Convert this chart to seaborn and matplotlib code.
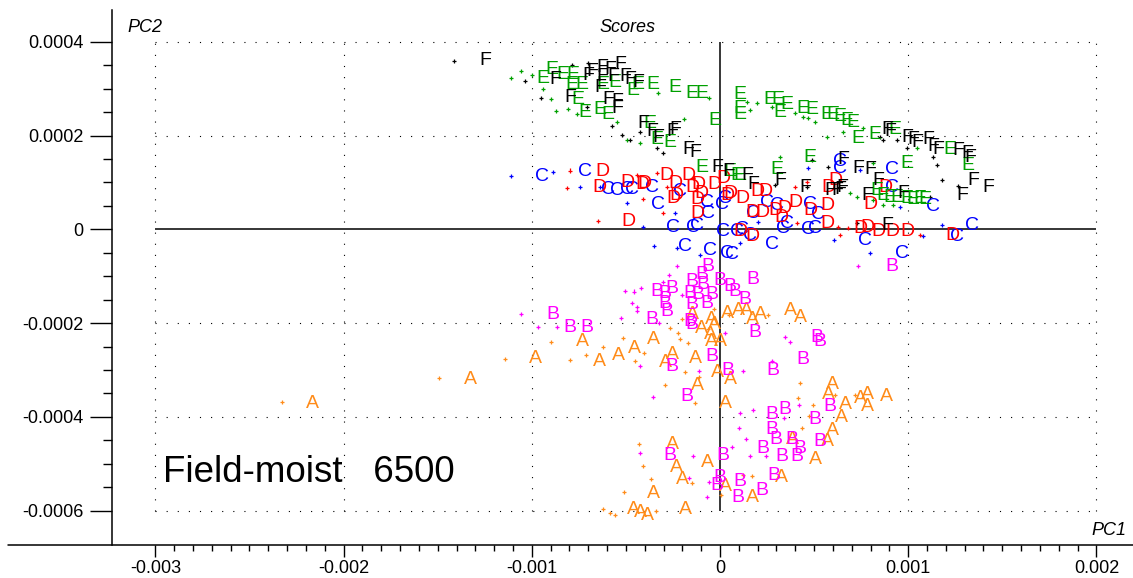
import numpy as np
import pandas as pd
import matplotlib
matplotlib.use("Agg")
import matplotlib.pyplot as plt
import seaborn as sns
from matplotlib.ticker import FixedLocator
from matplotlib.lines import Line2D

# ---------------- data (PC1, PC2 scores) ----------------
groups = ["A", "B", "C", "D", "E", "F"]
group_colors = {"A": "#FF8C1A", "B": "#FF00FF", "C": "#0000FF",
                "D": "#FF0000", "E": "#00A000", "F": "#000000"}

x_ticks = [-0.003, -0.002, -0.001, 0.0, 0.001, 0.002]
x_tick_labels = ["-0.003", "-0.002", "-0.001", "0", "0.001", "0.002"]
y_ticks = [-0.0006, -0.0004, -0.0002, 0.0, 0.0002, 0.0004]
y_tick_labels = ["-0.0006", "-0.0004", "-0.0002", "0", "0.0002", "0.0004"]

# labelled samples
A_labels = [(-21.68e-4, -3.68e-4), (-13.28e-4, -3.15e-4), (-9.83e-4, -2.72e-4), (-7.33e-4, -2.36e-4),
            (-6.38e-4, -2.77e-4), (-5.42e-4, -2.64e-4), (-4.52e-4, -2.49e-4), (-3.56e-4, -2.30e-4),
            (-2.92e-4, -2.79e-4), (-2.50e-4, -2.62e-4), (-1.33e-4, -2.72e-4), (-1.22e-4, -3.28e-4),
            (-0.16e-4, -3.00e-4), (0.53e-4, -3.15e-4), (0.27e-4, -3.68e-4), (-0.96e-4, -2.08e-4),
            (-0.43e-4, -1.89e-4), (-0.53e-4, -2.19e-4), (-0.27e-4, -1.98e-4), (-0.43e-4, -2.36e-4),
            (0.00e-4, -2.36e-4), (-1.49e-4, -1.78e-4), (0.37e-4, -1.76e-4), (0.96e-4, -1.68e-4),
            (1.43e-4, -1.68e-4), (1.75e-4, -1.87e-4), (2.13e-4, -1.78e-4), (3.72e-4, -1.68e-4),
            (4.25e-4, -1.83e-4), (5.95e-4, -3.26e-4), (5.74e-4, -3.49e-4), (6.64e-4, -3.70e-4),
            (6.48e-4, -3.96e-4), (6.00e-4, -4.24e-4), (5.69e-4, -4.49e-4), (5.05e-4, -4.86e-4),
            (3.83e-4, -4.43e-4), (7.44e-4, -3.57e-4), (7.81e-4, -3.49e-4), (7.86e-4, -3.74e-4),
            (8.82e-4, -3.53e-4), (-2.55e-4, -4.55e-4), (-2.34e-4, -5.03e-4), (-2.02e-4, -5.30e-4),
            (-3.51e-4, -5.60e-4), (-4.62e-4, -5.94e-4), (-4.20e-4, -5.99e-4), (-3.88e-4, -6.07e-4),
            (-1.81e-4, -5.94e-4), (-0.69e-4, -4.92e-4), (0.27e-4, -5.45e-4), (1.70e-4, -5.67e-4),
            (3.29e-4, -5.24e-4)]

B_labels = [(-8.87e-4, -1.78e-4), (-7.97e-4, -2.06e-4), (-7.07e-4, -2.06e-4), (-3.61e-4, -1.87e-4),
            (-3.35e-4, -1.29e-4), (-2.92e-4, -1.33e-4), (-2.55e-4, -1.23e-4), (-2.92e-4, -1.55e-4),
            (-2.82e-4, -1.72e-4), (-1.49e-4, -1.08e-4), (-0.96e-4, -0.93e-4), (-0.64e-4, -0.76e-4),
            (-1.59e-4, -1.33e-4), (-1.17e-4, -1.35e-4), (-0.90e-4, -1.14e-4), (-0.43e-4, -1.35e-4),
            (-0.69e-4, -1.55e-4), (-1.49e-4, -1.57e-4), (-1.59e-4, -1.93e-4), (-1.49e-4, -1.98e-4),
            (0.00e-4, -1.04e-4), (0.53e-4, -1.18e-4), (0.80e-4, -1.29e-4), (1.33e-4, -1.46e-4),
            (1.75e-4, -1.02e-4), (1.86e-4, -2.15e-4), (-0.43e-4, -2.68e-4), (-2.55e-4, -2.89e-4),
            (0.43e-4, -2.96e-4), (-1.75e-4, -3.53e-4), (9.14e-4, -0.76e-4), (5.15e-4, -2.26e-4),
            (5.31e-4, -2.36e-4), (4.41e-4, -2.74e-4), (2.82e-4, -2.96e-4), (2.76e-4, -3.90e-4),
            (3.45e-4, -3.81e-4), (2.76e-4, -4.22e-4), (2.98e-4, -4.43e-4), (3.83e-4, -4.43e-4),
            (4.25e-4, -4.64e-4), (3.29e-4, -4.81e-4), (4.09e-4, -4.81e-4), (2.28e-4, -4.64e-4),
            (5.05e-4, -4.02e-4), (5.31e-4, -4.49e-4), (5.85e-4, -3.74e-4), (-2.66e-4, -4.77e-4),
            (0.16e-4, -4.79e-4), (0.00e-4, -5.24e-4), (-0.16e-4, -5.41e-4), (1.06e-4, -5.34e-4),
            (0.96e-4, -5.67e-4), (2.23e-4, -5.52e-4), (2.87e-4, -5.20e-4)]

C_labels = [(-9.46e-4, 1.16e-4), (-7.17e-4, 1.27e-4), (-5.95e-4, 0.90e-4), (-5.47e-4, 0.88e-4),
            (-4.94e-4, 0.90e-4), (-4.68e-4, 0.90e-4), (-3.61e-4, 0.94e-4), (-3.29e-4, 0.58e-4),
            (-2.13e-4, 0.84e-4), (-0.64e-4, 0.37e-4), (-0.69e-4, 0.62e-4), (0.11e-4, 0.58e-4),
            (-2.50e-4, 0.09e-4), (-1.43e-4, 0.09e-4), (-1.22e-4, 0.13e-4), (0.16e-4, -0.01e-4),
            (-1.86e-4, -0.33e-4), (-0.53e-4, -0.40e-4), (0.64e-4, -0.50e-4), (0.37e-4, -0.48e-4),
            (6.38e-4, 1.48e-4), (6.38e-4, 1.33e-4), (9.14e-4, 1.31e-4), (9.14e-4, 0.94e-4),
            (11.32e-4, 0.52e-4), (13.39e-4, 0.13e-4), (12.59e-4, -0.12e-4), (9.67e-4, -0.48e-4),
            (7.71e-4, -0.19e-4), (2.76e-4, -0.29e-4), (3.35e-4, 0.05e-4), (3.56e-4, 0.16e-4),
            (4.68e-4, 0.03e-4), (5.05e-4, 0.05e-4), (4.78e-4, 0.58e-4), (5.21e-4, 0.35e-4),
            (3.03e-4, 0.56e-4), (2.50e-4, 0.62e-4), (1.75e-4, 0.37e-4), (1.59e-4, -0.08e-4),
            (1.17e-4, 0.03e-4), (0.27e-4, 0.69e-4), (0.90e-4, -0.01e-4)]

D_labels = [(-6.27e-4, 1.27e-4), (-6.38e-4, 0.94e-4), (-4.94e-4, 1.05e-4), (-4.14e-4, 0.99e-4),
            (-3.99e-4, 1.01e-4), (-2.82e-4, 1.20e-4), (-2.39e-4, 1.01e-4), (-2.50e-4, 0.69e-4),
            (-2.29e-4, 0.77e-4), (-1.70e-4, 1.20e-4), (-1.49e-4, 0.94e-4), (-1.17e-4, 0.99e-4),
            (-1.22e-4, 0.67e-4), (-0.96e-4, 0.80e-4), (-1.22e-4, 0.37e-4), (-0.27e-4, 0.99e-4),
            (0.16e-4, 1.12e-4), (0.53e-4, 0.80e-4), (-4.89e-4, 0.20e-4), (0.37e-4, 0.77e-4),
            (1.17e-4, 0.69e-4), (1.75e-4, 0.41e-4), (1.97e-4, 0.84e-4), (2.39e-4, 0.84e-4),
            (2.28e-4, 0.41e-4), (2.92e-4, 0.45e-4), (3.45e-4, 0.48e-4), (3.29e-4, 0.30e-4),
            (3.99e-4, 0.62e-4), (4.78e-4, 0.45e-4), (5.69e-4, 0.56e-4), (5.69e-4, 0.16e-4),
            (6.11e-4, 1.09e-4), (7.44e-4, 0.05e-4), (7.86e-4, 0.09e-4), (8.40e-4, -0.01e-4),
            (9.14e-4, -0.01e-4), (9.94e-4, -0.01e-4), (8.77e-4, 0.94e-4), (7.97e-4, 0.58e-4),
            (1.06e-4, -0.01e-4), (1.70e-4, -0.12e-4), (5.74e-4, 0.94e-4), (12.33e-4, -0.08e-4)]

E_labels = [(-9.41e-4, 3.25e-4), (-8.93e-4, 3.44e-4), (-8.34e-4, 3.35e-4), (-7.81e-4, 3.35e-4),
            (-7.86e-4, 3.12e-4), (-7.33e-4, 3.12e-4), (-7.55e-4, 2.82e-4), (-7.17e-4, 2.54e-4),
            (-6.38e-4, 2.59e-4), (-5.95e-4, 2.50e-4), (-6.22e-4, 3.14e-4), (-5.58e-4, 3.18e-4),
            (-4.62e-4, 3.01e-4), (-4.36e-4, 3.14e-4), (-3.56e-4, 3.14e-4), (-2.39e-4, 3.07e-4),
            (-1.49e-4, 2.93e-4), (-0.96e-4, 2.93e-4), (-0.27e-4, 2.37e-4), (-3.72e-4, 2.29e-4),
            (-3.35e-4, 1.95e-4), (-2.66e-4, 1.90e-4), (-0.96e-4, 1.37e-4), (1.06e-4, 2.91e-4),
            (1.06e-4, 2.61e-4), (1.06e-4, 2.48e-4), (2.66e-4, 2.80e-4), (3.08e-4, 2.80e-4),
            (3.56e-4, 2.71e-4), (3.19e-4, 2.54e-4), (4.41e-4, 2.61e-4), (4.89e-4, 2.59e-4),
            (5.69e-4, 2.50e-4), (6.00e-4, 2.48e-4), (6.38e-4, 2.44e-4), (6.75e-4, 2.37e-4),
            (7.07e-4, 2.33e-4), (7.33e-4, 1.97e-4), (8.24e-4, 2.07e-4), (9.30e-4, 2.18e-4),
            (12.22e-4, 1.75e-4), (13.18e-4, 1.41e-4), (9.94e-4, 1.44e-4), (4.78e-4, 1.58e-4),
            (3.03e-4, 1.31e-4), (1.06e-4, 1.20e-4), (8.34e-4, 0.88e-4), (8.66e-4, 0.77e-4),
            (9.03e-4, 0.73e-4), (9.41e-4, 0.73e-4), (9.94e-4, 0.69e-4), (10.26e-4, 0.67e-4),
            (10.63e-4, 0.69e-4), (10.89e-4, 0.67e-4), (0.90e-4, 1.20e-4), (0.53e-4, 1.27e-4)]

F_labels = [(-12.49e-4, 3.65e-4), (-8.77e-4, 3.23e-4), (-7.97e-4, 2.86e-4), (-7.01e-4, 3.33e-4),
            (-6.80e-4, 3.40e-4), (-6.27e-4, 3.50e-4), (-6.27e-4, 3.29e-4), (-5.85e-4, 3.46e-4),
            (-5.31e-4, 3.55e-4), (-5.69e-4, 3.29e-4), (-5.05e-4, 3.29e-4), (-4.78e-4, 3.23e-4),
            (-4.36e-4, 3.18e-4), (-6.38e-4, 3.07e-4), (-5.95e-4, 2.82e-4), (-5.47e-4, 2.76e-4),
            (-5.47e-4, 2.61e-4), (-4.09e-4, 2.29e-4), (-3.61e-4, 2.12e-4), (-3.29e-4, 2.01e-4),
            (-2.55e-4, 2.12e-4), (-2.39e-4, 2.16e-4), (-1.70e-4, 1.75e-4), (-1.33e-4, 1.69e-4),
            (-0.16e-4, 1.37e-4), (0.43e-4, 1.27e-4), (1.43e-4, 1.20e-4), (1.75e-4, 0.99e-4),
            (3.19e-4, 1.09e-4), (4.52e-4, 0.94e-4), (6.54e-4, 1.54e-4), (7.33e-4, 1.33e-4),
            (7.97e-4, 1.31e-4), (8.40e-4, 1.09e-4), (8.87e-4, 2.16e-4), (9.03e-4, 2.12e-4),
            (9.94e-4, 2.01e-4), (10.26e-4, 1.95e-4), (10.47e-4, 1.90e-4), (11.05e-4, 1.95e-4),
            (11.32e-4, 1.80e-4), (11.58e-4, 1.75e-4), (12.65e-4, 1.73e-4), (13.13e-4, 1.65e-4),
            (13.29e-4, 1.58e-4), (13.44e-4, 1.09e-4), (14.24e-4, 0.94e-4), (12.86e-4, 0.77e-4),
            (9.72e-4, 0.80e-4), (5.85e-4, 0.88e-4), (6.22e-4, 0.88e-4), (6.48e-4, 0.94e-4),
            (7.81e-4, 0.77e-4), (8.87e-4, 0.13e-4), (6.38e-4, 0.90e-4)]

# unlabelled samples (small crosses)
A_dots = [(-23.27e-4, -3.68e-4), (-14.93e-4, -3.17e-4), (-11.42e-4, -2.77e-4), (-8.98e-4, -2.40e-4),
          (-7.97e-4, -2.79e-4), (-7.12e-4, -2.68e-4), (-6.22e-4, -2.51e-4), (-5.15e-4, -2.32e-4),
          (-4.04e-4, -2.64e-4), (-4.52e-4, -2.81e-4), (-2.66e-4, -2.10e-4), (-2.02e-4, -1.91e-4),
          (-2.23e-4, -2.21e-4), (-2.13e-4, -2.34e-4), (-1.70e-4, -2.43e-4), (-1.86e-4, -3.04e-4),
          (-1.12e-4, -3.15e-4), (-2.92e-4, -3.32e-4), (-1.33e-4, -3.70e-4), (-0.32e-4, -1.70e-4),
          (0.48e-4, -1.83e-4), (-0.64e-4, -2.13e-4), (2.55e-4, -1.83e-4), (4.25e-4, -3.28e-4),
          (4.14e-4, -3.60e-4), (4.94e-4, -3.74e-4), (6.11e-4, -3.53e-4), (7.17e-4, -3.53e-4),
          (4.73e-4, -3.98e-4), (4.36e-4, -4.24e-4), (-4.30e-4, -4.58e-4), (-4.09e-4, -5.05e-4),
          (-3.67e-4, -5.32e-4), (-5.10e-4, -5.60e-4), (-6.22e-4, -5.96e-4), (-5.85e-4, -6.05e-4),
          (-5.58e-4, -6.09e-4), (-3.40e-4, -6.01e-4), (-1.49e-4, -5.41e-4), (0.05e-4, -5.67e-4),
          (1.70e-4, -5.26e-4), (1.22e-4, -5.24e-4)]

B_dots = [(-10.57e-4, -1.81e-4), (-9.67e-4, -2.08e-4), (-8.66e-4, -2.08e-4), (-5.05e-4, -1.31e-4),
          (-4.57e-4, -1.33e-4), (-4.20e-4, -1.25e-4), (-4.68e-4, -1.57e-4), (-4.41e-4, -1.66e-4),
          (-4.41e-4, -1.74e-4), (-5.26e-4, -1.89e-4), (-3.24e-4, -2.00e-4), (-3.03e-4, -1.12e-4),
          (-2.71e-4, -0.97e-4), (-2.29e-4, -0.78e-4), (-2.02e-4, -1.40e-4), (-3.56e-4, -3.57e-4),
          (-4.25e-4, -2.91e-4), (1.06e-4, -3.92e-4), (1.75e-4, -3.85e-4), (1.22e-4, -3.02e-4),
          (0.27e-4, -2.21e-4), (-1.12e-4, -3.02e-4), (-4.25e-4, -4.77e-4), (-1.43e-4, -4.84e-4),
          (-1.65e-4, -5.30e-4), (-0.58e-4, -5.39e-4), (-0.69e-4, -5.71e-4), (0.64e-4, -4.64e-4),
          (1.01e-4, -4.24e-4), (1.38e-4, -4.47e-4), (1.59e-4, -4.84e-4), (2.44e-4, -4.84e-4),
          (4.20e-4, -3.74e-4), (3.40e-4, -4.02e-4), (3.45e-4, -2.30e-4), (3.72e-4, -2.40e-4),
          (2.76e-4, -2.81e-4), (7.33e-4, -0.78e-4)]

C_dots = [(-11.11e-4, 1.14e-4), (-8.87e-4, 1.22e-4), (-7.44e-4, 0.90e-4), (-6.38e-4, 0.90e-4),
          (-4.94e-4, 0.56e-4), (-4.09e-4, 0.05e-4), (-3.51e-4, -0.36e-4), (-2.29e-4, -0.40e-4),
          (-1.06e-4, -0.55e-4), (-2.39e-4, 0.35e-4), (4.68e-4, 1.31e-4), (7.44e-4, 1.27e-4),
          (9.57e-4, 0.48e-4), (11.80e-4, 0.09e-4), (6.06e-4, -0.23e-4), (7.97e-4, -0.50e-4),
          (2.02e-4, 0.16e-4), (1.06e-4, -0.29e-4), (10.79e-4, -0.14e-4)]

D_dots = [(-7.97e-4, 1.25e-4), (-8.13e-4, 0.88e-4), (-6.48e-4, 0.18e-4), (-4.41e-4, 1.16e-4),
          (-3.35e-4, 1.20e-4), (-4.09e-4, 0.64e-4), (-3.03e-4, 0.35e-4), (-2.82e-4, 0.90e-4),
          (-1.43e-4, 1.09e-4), (3.99e-4, 0.90e-4), (4.62e-4, 1.01e-4), (4.09e-4, 0.13e-4),
          (6.27e-4, 0.05e-4), (6.80e-4, 0.03e-4), (10.63e-4, -0.12e-4), (6.38e-4, -0.12e-4)]

E_dots = [(-11.11e-4, 3.23e-4), (-10.57e-4, 3.38e-4), (-9.99e-4, 3.29e-4), (-9.41e-4, 2.99e-4),
          (-8.98e-4, 2.78e-4), (-8.71e-4, 2.52e-4), (-8.08e-4, 2.57e-4), (-7.60e-4, 2.46e-4),
          (-5.47e-4, 2.29e-4), (-4.94e-4, 1.90e-4), (-4.25e-4, 1.84e-4), (-3.29e-4, 2.91e-4),
          (-1.91e-4, 2.35e-4), (-0.58e-4, 2.80e-4), (1.43e-4, 2.71e-4), (1.97e-4, 2.69e-4),
          (1.59e-4, 2.54e-4), (2.76e-4, 2.61e-4), (3.99e-4, 2.48e-4), (4.41e-4, 2.39e-4),
          (4.68e-4, 2.37e-4), (5.05e-4, 2.29e-4), (5.69e-4, 1.97e-4), (6.54e-4, 2.07e-4),
          (7.60e-4, 2.16e-4), (3.19e-4, 1.54e-4), (8.13e-4, 1.41e-4), (6.91e-4, 0.77e-4),
          (7.28e-4, 0.69e-4), (8.13e-4, 0.62e-4), (8.66e-4, 0.52e-4), (9.19e-4, 0.52e-4),
          (10.47e-4, 1.73e-4)]

F_dots = [(-14.13e-4, 3.59e-4), (-10.36e-4, 3.16e-4), (-9.51e-4, 2.80e-4), (-7.86e-4, 3.50e-4),
          (-7.01e-4, 3.55e-4), (-7.07e-4, 2.61e-4), (-5.74e-4, 2.20e-4), (-5.21e-4, 2.01e-4),
          (-4.78e-4, 1.90e-4), (-4.25e-4, 2.07e-4), (-3.35e-4, 1.73e-4), (-3.03e-4, 1.63e-4),
          (8.50e-4, 1.97e-4), (8.66e-4, 1.90e-4), (9.41e-4, 1.90e-4), (9.94e-4, 1.73e-4),
          (11.32e-4, 1.54e-4), (11.53e-4, 1.37e-4), (11.80e-4, 1.05e-4), (12.65e-4, 0.92e-4),
          (11.16e-4, 0.69e-4), (5.74e-4, 1.33e-4), (4.89e-4, 1.48e-4), (4.62e-4, 0.90e-4),
          (2.92e-4, 0.94e-4), (7.28e-4, 0.13e-4)]

labels_by_group = {"A": A_labels, "B": B_labels, "C": C_labels,
                   "D": D_labels, "E": E_labels, "F": F_labels}
dots_by_group = {"A": A_dots, "B": B_dots, "C": C_dots,
                 "D": D_dots, "E": E_dots, "F": F_dots}

# ---------------- figure ----------------
sns.set_style("white")
plt.rcParams["font.family"] = ["Liberation Sans", "DejaVu Sans"]
plt.rcParams["text.color"] = "black"
plt.rcParams["xtick.color"] = "black"
plt.rcParams["ytick.color"] = "black"

W, H = 1133, 578
fig = plt.figure(figsize=(W / 100, H / 100), dpi=100)
ax = fig.add_axes([112 / W, (H - 545) / H, (W - 112) / W, 535 / H])
ax.set_xlim(-0.0032306, 0.0021945)
ax.set_ylim(-0.00067313, 0.00046759)

# dotted grid and solid zero lines
grid_x = [v for v in x_ticks if v != 0]
grid_y = [v for v in y_ticks if v != 0]
dot_style = (0, (1, 9))
ax.vlines(grid_x, min(y_ticks), max(y_ticks), colors="black", linestyles=[dot_style], linewidth=0.8, zorder=0)
ax.hlines(grid_y, min(x_ticks), max(x_ticks), colors="black", linestyles=[dot_style], linewidth=0.8, zorder=0)
ax.hlines(0, min(x_ticks), max(x_ticks), colors="black", linewidth=1.1, zorder=1)
ax.vlines(0, min(y_ticks), max(y_ticks), colors="black", linewidth=1.1, zorder=1)

# small crosses
dot_rows = [(g, x, y) for g in groups for (x, y) in dots_by_group[g]]
dots_df = pd.DataFrame(dot_rows, columns=["group", "PC1", "PC2"])
sns.scatterplot(data=dots_df, x="PC1", y="PC2", hue="group", palette=group_colors,
                marker="+", s=10, linewidth=0.9, legend=False, ax=ax, zorder=2)

# letter labels
for g in groups:
    for (x, y) in labels_by_group[g]:
        ax.text(x, y, g, color=group_colors[g], fontsize=14,
                ha="center", va="center_baseline", zorder=3)

ax.set_xlabel("")
ax.set_ylabel("")

# spines
for s in ["top", "right", "bottom"]:
    ax.spines[s].set_visible(False)
ax.spines["left"].set_color("black")
ax.spines["left"].set_linewidth(1.1)
ax.add_line(Line2D([(8 - 112) / (W - 112), 1.0], [0, 0], transform=ax.transAxes,
                   color="black", linewidth=1.1, clip_on=False))

# ticks
ax.xaxis.set_major_locator(FixedLocator(x_ticks))
ax.set_xticklabels(x_tick_labels)
ax.xaxis.set_minor_locator(FixedLocator(np.linspace(min(x_ticks), max(x_ticks), 51)))
ax.yaxis.set_major_locator(FixedLocator(y_ticks))
ax.set_yticklabels(y_tick_labels)
ax.yaxis.set_minor_locator(FixedLocator(np.linspace(min(y_ticks), max(y_ticks), 21)))
ax.tick_params(axis="x", which="major", bottom=True, direction="out", length=8.5, width=1.0,
               pad=2.0, labelsize=13, colors="black")
ax.tick_params(axis="x", which="minor", bottom=True, direction="out", length=4.3, width=1.0)
ax.tick_params(axis="y", which="major", left=True, direction="out", length=15.5, width=1.0,
               pad=5.0, labelsize=13, colors="black")
ax.tick_params(axis="y", which="minor", left=True, direction="out", length=6.3, width=1.0)

# texts
fig.text(127 / W, 1 - 32 / H, "PC2", fontsize=13, style="italic", ha="left", va="baseline", color="black")
fig.text(627 / W, 1 - 32 / H, "Scores", fontsize=13, style="italic", ha="center", va="baseline", color="black")
fig.text(1126 / W, 1 - 535 / H, "PC1", fontsize=13, style="italic", ha="right", va="baseline", color="black")
fig.text(163 / W, 1 - 482 / H, "Field-moist   6500", fontsize=26.5, ha="left", va="baseline", color="black")

fig.savefig("out.png", dpi=100)
